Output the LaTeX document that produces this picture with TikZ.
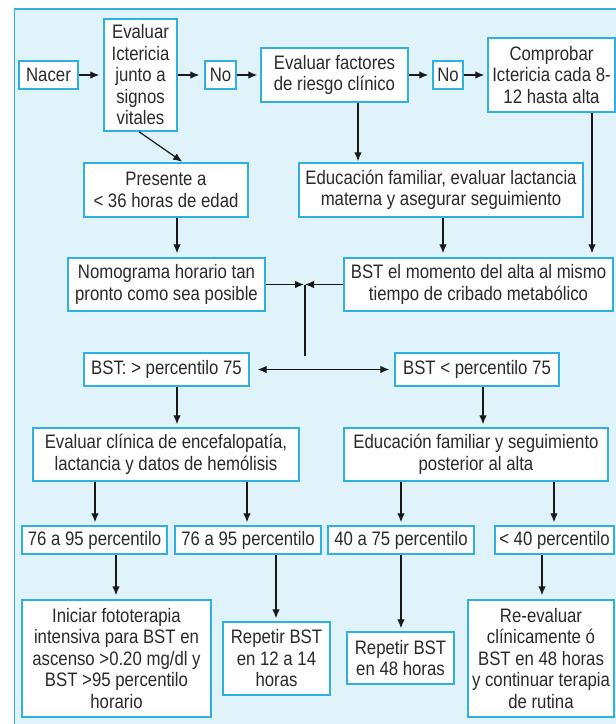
\documentclass[tikz,border=0pt]{standalone}
\usepackage{fontspec}
\newfontfamily\cond[FakeStretch=0.86]{Liberation Sans}
\usetikzlibrary{arrows.meta}
\definecolor{bgblue}{HTML}{E0F3FB}
\definecolor{cyanb}{HTML}{2FB0E4}
\definecolor{txt}{HTML}{2A2A2A}
\tikzset{
  box/.style={draw=cyanb, line width=1.4pt, fill=white, inner sep=0pt, align=center,
    text=txt, font=\cond\fontsize{19.5}{21.5}\selectfont},
  arr/.style={draw=black!90, line width=1.2pt, -{Latex[length=9pt,width=7.5pt]}, shorten >=3pt},
  plain/.style={draw=black!90, line width=1.2pt},
  darr/.style={draw=black!90, line width=1.2pt, {Latex[length=9pt,width=7.5pt]}-{Latex[length=9pt,width=7.5pt]}}
}
\begin{document}
\begin{tikzpicture}[x=1pt,y=-1pt]
\clip (0,0) rectangle (616,724);
\useasboundingbox (0,0) rectangle (616,724);
\fill[white] (0,0) rectangle (616,724);
\draw[draw=cyanb, line width=1.8pt, fill=bgblue] (14.5,9) rectangle (640,760);

% top row
\node[box, minimum width=59pt, minimum height=28pt] (nacer) at (48.5,75) {Nacer};
\node[box, minimum width=73pt, minimum height=112pt] (evic) at (140.5,75) {Evaluar\\Ictericia\\junto a\\signos\\vitales};
\node[box, minimum width=31pt, minimum height=28pt] (no1) at (220.5,75) {No};
\node[box, minimum width=147pt, minimum height=54pt] (evfac) at (334.5,75) {Evaluar factores\\de riesgo clínico};
\node[box, minimum width=30pt, minimum height=28pt] (no2) at (448,75) {No};
\node[box, minimum width=127pt, minimum height=74pt] (comp) at (551.5,75) {Comprobar\\Ictericia cada 8-\\12 hasta alta};

% second row
\node[box, minimum width=164pt, minimum height=54pt] (pres) at (166,190) {Presente a\\< 36 horas de edad};
\node[box, minimum width=284pt, minimum height=54pt] (educ) at (441,190) {Educación familiar, evaluar lactancia\\materna y asegurar seguimiento};

% third row
\node[box, minimum width=197pt, minimum height=53pt] (nomo) at (166.5,284.5) {Nomograma horario tan\\pronto como sea posible};
\node[box, minimum width=269pt, minimum height=53pt] (bstm) at (478.5,284.5) {BST el momento del alta al mismo\\tiempo de cribado metabólico};

% fourth row
\node[box, minimum width=165pt, minimum height=33pt] (bstg) at (166.5,369.5) {BST: > percentilo 75};
\node[box, minimum width=164pt, minimum height=33pt] (bstl) at (477,369.5) {BST < percentilo 75};

% fifth row
\node[box, minimum width=266pt, minimum height=53pt] (evcl) at (166,454.5) {Evaluar clínica de encefalopatía,\\lactancia y datos de hemólisis};
\node[box, minimum width=264pt, minimum height=53pt] (edseg) at (476,454.5) {Educación familiar y seguimiento\\posterior al alta};

% sixth row
\node[box, minimum width=145pt, minimum height=28pt] (p1) at (94.5,540) {76 a 95 percentilo};
\node[box, minimum width=146pt, minimum height=28pt] (p2) at (248,540) {76 a 95 percentilo};
\node[box, minimum width=146pt, minimum height=28pt] (p3) at (401,540) {40 a 75 percentilo};
\node[box, minimum width=119pt, minimum height=28pt] (p4) at (554.5,540) {< 40 percentilo};

% bottom row
\node[box, minimum width=189pt, minimum height=117pt] (inic) at (116.5,658.5) {Iniciar fototerapia\\intensiva para BST en\\ascenso >0.20 mg/dl y\\BST >95 percentilo\\horario};
\node[box, minimum width=107pt, minimum height=73pt] (rep1) at (276.5,658.5) {Repetir BST\\en 12 a 14\\horas};
\node[box, minimum width=107pt, minimum height=52pt] (rep2) at (400.5,658) {Repetir BST\\en 48 horas};
\node[box, minimum width=146pt, minimum height=117pt] (reev) at (541,658.5) {Re-evaluar\\clínicamente ó\\BST en 48 horas\\y continuar terapia\\de rutina};

% helper coordinates
\coordinate (x95) at (95,0);
\coordinate (x116) at (116,0);
\coordinate (x139) at (139,0);
\coordinate (x177) at (177,0);
\coordinate (x183) at (183,0);
\coordinate (x247) at (247,0);
\coordinate (x276) at (276,0);
\coordinate (x358) at (358,0);
\coordinate (x401) at (401,0);
\coordinate (x443) at (443,0);
\coordinate (x483) at (483,0);
\coordinate (x542) at (542,0);
\coordinate (x554) at (554,0);
\coordinate (x592) at (592,0);
\coordinate (j) at (305,284.5);
\coordinate (jb) at (305,356);

% top arrows
\draw[arr, shorten >=4pt] (nacer) -- (evic);
\draw[arr, shorten >=5pt] (evic.east |- no1) -- (no1);
\draw[arr] (no1) -- (evfac.west |- no1);
\draw[arr, shorten >=4pt] (evfac.east |- no2) -- (no2);
\draw[arr] (no2) -- (comp.west |- no2);
\draw[arr, shorten >=1pt] (evic.south -| x139) -- (pres.north -| x183);
\draw[arr, shorten >=1pt] (evfac.south -| x358) -- (educ.north -| x358);

% to third row
\draw[arr, shorten >=4pt] (pres.south -| x177) -- (nomo.north -| x177);
\draw[arr, shorten >=4pt] (educ.south -| x443) -- (bstm.north -| x443);
\draw[arr, shorten >=4pt] (comp.south -| x592) -- (bstm.north -| x592);

% junction
\draw[arr, shorten >=1pt] (nomo.east) -- (j);
\draw[arr, shorten >=0pt] (bstm.west) -- (j);
\draw[plain] (j) -- (jb);
\draw[darr, shorten <=8pt, shorten >=5pt] (bstg.east) -- (bstl.west);

% lower arrows
\draw[arr] (bstg.south -| x177) -- (evcl.north -| x177);
\draw[arr] (bstl.south -| x483) -- (edseg.north -| x483);
\draw[arr] (evcl.south -| x95) -- (p1.north -| x95);
\draw[arr] (evcl.south -| x247) -- (p2.north -| x247);
\draw[arr] (edseg.south -| x401) -- (p3.north -| x401);
\draw[arr] (edseg.south -| x554) -- (p4.north -| x554);
\draw[arr, shorten >=4pt] (p1.south -| x116) -- (inic.north -| x116);
\draw[arr] (p2.south -| x276) -- (rep1.north -| x276);
\draw[arr] (p3.south -| x401) -- (rep2.north -| x401);
\draw[arr, shorten >=4pt] (p4.south -| x542) -- (reev.north -| x542);
\end{tikzpicture}
\end{document}
